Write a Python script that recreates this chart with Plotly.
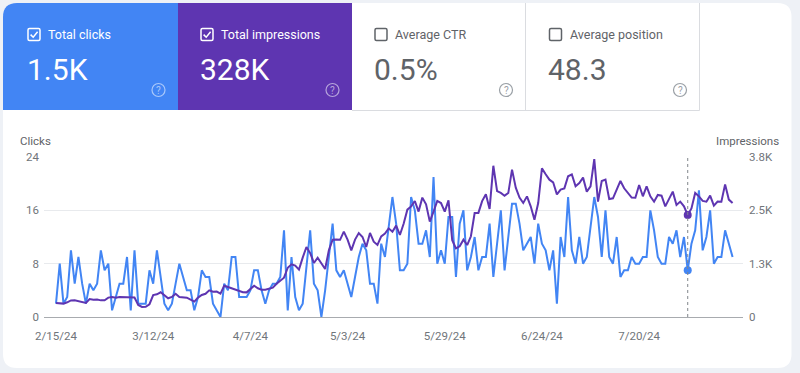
import plotly.graph_objects as go
import pandas as pd

# ---------------- data ----------------
start_date = "2024-02-15"

clicks = [
    2, 8, 2, 3, 10, 5, 9, 5, 2, 5, 4, 5, 10, 7, 8, 1, 3, 5, 5, 9, 1, 10, 2, 2, 2, 7, 5, 10, 6, 2, 1, 2, 5,
    8, 6, 4, 4, 1, 3, 7, 6, 6, 2, 1, 0, 5, 4, 9, 9, 3, 3, 3, 4, 7, 7, 4, 2, 4, 5, 5, 6, 13, 1, 9, 3, 1, 2, 7, 13, 5, 4, 0,
    4, 9, 14, 7, 6, 7, 5, 3, 6, 9, 11, 10, 5, 5, 2, 11, 9, 14, 18, 14, 7, 7, 8, 18, 16, 11, 11, 13, 9,
    21, 8, 10, 8, 15, 15, 6, 14, 16, 7, 9, 12, 7, 9, 9, 14, 6, 11, 16, 7, 12, 17, 17, 14, 10, 11, 12, 8, 14, 11, 10, 7, 10, 2,
    12, 9, 18, 10, 8, 12, 8, 9, 14, 18, 15, 9, 16, 9, 8, 12, 6, 7, 7, 9, 8, 8, 9, 9, 16, 13, 9, 8, 8, 12, 11, 13, 9, 12, 7,
    11, 13, 19, 10, 12, 16, 8, 9, 9, 13, 11, 9,
]

impressions = [
    335, 331, 318, 349, 394, 397, 381, 366, 334, 428, 410, 413, 395, 398, 460, 474, 457, 476, 472, 478, 473, 461,
    287, 238, 241, 303, 521, 540, 587, 508, 445, 476, 553,
    476, 473, 458, 413, 366, 460, 523, 552, 634, 601, 603, 555, 745, 713, 680, 664, 618, 588, 585, 666, 743, 682,
    650, 648, 679, 698, 791, 856, 933, 1170, 1252, 1220, 1125, 1410, 1663, 1518, 1283, 1408, 1268,
    1141, 1584, 1835, 1840, 1833, 2028, 1836, 1582, 1838, 1994, 1901, 1663, 1996, 1788, 1711, 1915, 1980, 2105,
    2026, 2170, 1948, 2216, 2550, 2627, 2754, 2503, 2835, 2675, 2265,
    2501, 2756, 2706, 2504, 2770, 1822, 1630, 1679, 1836, 1709, 1917, 2468, 2472, 2753, 2914, 2566, 3593, 2991,
    2946, 2881, 2944, 3500, 3071, 2835, 2708, 2865, 2629, 2311, 2706, 3530, 3389, 3261, 3199, 2912,
    3025, 3055, 3342, 3387, 3104, 3181, 3310, 2976, 3102, 3751, 2740, 3229, 3263, 2801, 2819, 3023, 3231, 3057,
    2944, 2835, 2833, 3136, 2867, 3102, 2865, 2738, 2898, 2881, 2627, 2803, 2978, 2659, 2740, 2629, 2422,
    2580, 2946, 2865, 2756, 2738, 2883, 2643, 2741, 2737, 3150, 2788, 2706,
]

hover_index = 169  # highlighted day (crosshair)

tick_dates = ["2024-02-15", "2024-03-12", "2024-04-07", "2024-05-03",
              "2024-05-29", "2024-06-24", "2024-07-20"]
tick_labels = ["2/15/24", "3/12/24", "4/7/24", "5/3/24", "5/29/24", "6/24/24", "7/20/24"]

clicks_tickvals = [0, 8, 16, 24]
clicks_ticktext = ["0", "8", "16", "24"]
impr_tickvals = [0, 1266.67, 2533.33, 3800]
impr_ticktext = ["0", "1.3K", "2.5K", "3.8K"]

metric_titles = ["Total clicks", "Total impressions", "Average CTR", "Average position"]
metric_values = ["1.5K", "328K", "0.5%", "48.3"]
metric_checked = [True, True, False, False]

# ---------------- styling / layout ----------------
W, H = 800, 373
ML, MR, MT, MB = 44, 57, 157, 56
PW, PH = W - ML - MR, H - MT - MB

BLUE = "#4285f4"
PURPLE = "#5e35b1"
GREY_TXT = "#5f6368"
AXIS_TXT = "#70757a"
BORDER = "#dadce0"
FONT = "Roboto"


def px(x):
    return (x - ML) / PW


def py(y):
    return (H - MB - y) / PH


def rrect(x0, y0, x1, y1, tl=0, tr=0, br=0, bl=0):
    pts = []

    def P(x, y):
        return f"{px(x):.5f},{py(y):.5f}"
    pts.append(f"M {P(x0 + tl, y0)}")
    pts.append(f"L {P(x1 - tr, y0)}")
    if tr:
        pts.append(f"Q {P(x1, y0)} {P(x1, y0 + tr)}")
    pts.append(f"L {P(x1, y1 - br)}")
    if br:
        pts.append(f"Q {P(x1, y1)} {P(x1 - br, y1)}")
    pts.append(f"L {P(x0 + bl, y1)}")
    if bl:
        pts.append(f"Q {P(x0, y1)} {P(x0, y1 - bl)}")
    pts.append(f"L {P(x0, y0 + tl)}")
    if tl:
        pts.append(f"Q {P(x0, y0)} {P(x0 + tl, y0)}")
    pts.append("Z")
    return " ".join(pts)


dates = pd.date_range(start_date, periods=len(clicks), freq="D")
x_start = dates[0] - pd.Timedelta(hours=3.21 * 24)
x_end = dates[0] + pd.Timedelta(hours=183.79 * 24)

fig = go.Figure()

fig.add_trace(go.Scatter(
    x=dates, y=impressions, mode="lines", yaxis="y2",
    line=dict(color=PURPLE, width=2), hoverinfo="skip"))
fig.add_trace(go.Scatter(
    x=dates, y=clicks, mode="lines", yaxis="y",
    line=dict(color=BLUE, width=2), hoverinfo="skip"))
fig.add_trace(go.Scatter(
    x=[dates[hover_index]], y=[impressions[hover_index]], mode="markers", yaxis="y2",
    marker=dict(color=PURPLE, size=8), hoverinfo="skip"))
fig.add_trace(go.Scatter(
    x=[dates[hover_index]], y=[clicks[hover_index]], mode="markers", yaxis="y",
    marker=dict(color=BLUE, size=8), hoverinfo="skip"))

shapes = []
# card
shapes.append(dict(type="path", xref="paper", yref="paper", layer="below",
                   path=rrect(3, 3, 791.5, 368, 14, 14, 14, 14),
                   fillcolor="white", line=dict(width=0)))

tile_x = [3, 178, 352, 525.5]
tile_r = [178, 352, 525.5, 699.5]
tile_fill = [BLUE, PURPLE, "white", "white"]
content_x = [28, 201, 375, 549.5]
help_x = [158.5, 332.5, 506, 680]
help_col = ["rgba(255,255,255,0.55)", "rgba(255,255,255,0.55)", "#9aa0a6", "#9aa0a6"]

for i in range(4):
    shapes.append(dict(type="path", xref="paper", yref="paper", layer="below",
                       path=rrect(tile_x[i], 3, tile_r[i], 110, tl=14 if i == 0 else 0),
                       fillcolor=tile_fill[i], line=dict(width=0)))

# tile borders for unchecked tiles
for xx in [525.5, 699.5]:
    shapes.append(dict(type="line", xref="paper", yref="paper", layer="below",
                       x0=px(xx), x1=px(xx), y0=py(3), y1=py(110.5),
                       line=dict(color=BORDER, width=1)))
shapes.append(dict(type="line", xref="paper", yref="paper", layer="below",
                   x0=px(352), x1=px(699.5), y0=py(110.5), y1=py(110.5),
                   line=dict(color=BORDER, width=1)))

annotations = []
for i in range(4):
    cx = content_x[i]
    chk_col = "white" if metric_checked[i] else GREY_TXT
    shapes.append(dict(type="path", xref="paper", yref="paper",
                       path=rrect(cx, 28.5, cx + 12, 40.5, 1.5, 1.5, 1.5, 1.5),
                       fillcolor="rgba(0,0,0,0)", line=dict(color=chk_col, width=1.5)))
    if metric_checked[i]:
        shapes.append(dict(type="path", xref="paper", yref="paper",
                           path=f"M {px(cx + 2.6):.5f},{py(34.6):.5f} L {px(cx + 5.2):.5f},{py(37.2):.5f} "
                                f"L {px(cx + 9.6):.5f},{py(31.8):.5f}",
                           line=dict(color="white", width=1.5)))
    txt_col = "white" if metric_checked[i] else GREY_TXT
    annotations.append(dict(xref="paper", yref="paper", x=px(cx + 18), y=py(34.5),
                            xanchor="left", yanchor="middle", showarrow=False,
                            text=metric_titles[i], font=dict(family=FONT, size=12.5, color=txt_col)))
    annotations.append(dict(xref="paper", yref="paper", x=px(cx - 3.5), y=py(69),
                            xanchor="left", yanchor="middle", showarrow=False,
                            text=metric_values[i], font=dict(family=FONT, size=30, color=txt_col)))
    hx = help_x[i]
    shapes.append(dict(type="circle", xref="paper", yref="paper",
                       x0=px(hx - 6.5), x1=px(hx + 6.5), y0=py(83.5), y1=py(96.5),
                       line=dict(color=help_col[i], width=1.2), fillcolor="rgba(0,0,0,0)"))
    annotations.append(dict(xref="paper", yref="paper", x=px(hx), y=py(90),
                            xanchor="center", yanchor="middle", showarrow=False,
                            text="?", font=dict(family=FONT, size=10, color=help_col[i])))

# axis titles
annotations.append(dict(xref="paper", yref="paper", x=px(18), y=py(140.5),
                        xanchor="left", yanchor="middle", showarrow=False,
                        text="Clicks", font=dict(family=FONT, size=11.5, color=GREY_TXT)))
annotations.append(dict(xref="paper", yref="paper", x=px(781), y=py(140.5),
                        xanchor="right", yanchor="middle", showarrow=False,
                        text="Impressions", font=dict(family=FONT, size=11.5, color=GREY_TXT)))

# crosshair
shapes.append(dict(type="line", xref="x", yref="paper",
                   x0=dates[hover_index], x1=dates[hover_index], y0=0, y1=1,
                   line=dict(color="#80868b", width=1, dash="dot")))

fig.update_layout(
    width=W, height=H,
    margin=dict(l=ML, r=MR, t=MT, b=MB, pad=0),
    paper_bgcolor="#eef1f6",
    plot_bgcolor="white",
    showlegend=False,
    hovermode=False,
    font=dict(family=FONT, size=11.5, color=AXIS_TXT),
    shapes=shapes,
    annotations=annotations,
    xaxis=dict(type="date", range=[x_start, x_end], tickvals=tick_dates, ticktext=tick_labels,
               showgrid=False, zeroline=False, showline=False, ticks="",
               tickfont=dict(family=FONT, size=11.5, color=AXIS_TXT), ticklabelstandoff=10,
               fixedrange=True),
    yaxis=dict(range=[0, 24], tickvals=clicks_tickvals, ticktext=clicks_ticktext,
               showgrid=True, gridcolor="#e8eaed", gridwidth=1,
               zeroline=True, zerolinecolor="#a8abaf", zerolinewidth=1,
               showline=False, ticks="", ticklabelstandoff=4,
               tickfont=dict(family=FONT, size=11.5, color=AXIS_TXT), fixedrange=True),
    yaxis2=dict(range=[0, 3800], tickvals=impr_tickvals, ticktext=impr_ticktext,
                overlaying="y", side="right", showgrid=False, zeroline=False, showline=False,
                ticks="", ticklabelstandoff=5,
                tickfont=dict(family=FONT, size=11.5, color=AXIS_TXT), fixedrange=True),
)

fig.write_html(
    "out.html",
    config={"displayModeBar": False, "staticPlot": True},
    post_script="document.body.style.margin='0';document.body.style.overflow='hidden';",
)
